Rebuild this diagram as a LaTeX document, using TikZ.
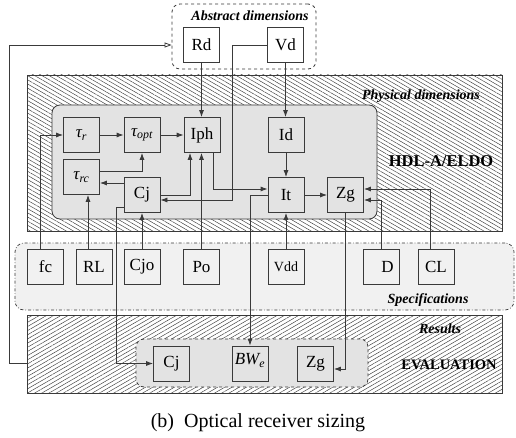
\documentclass[tikz,border=0pt]{standalone}
\usepackage{fontspec}
\setmainfont{Liberation Serif}
\usetikzlibrary{arrows.meta,patterns.meta,calc}

\definecolor{panelgray}{HTML}{E3E3E3}
\definecolor{specgray}{HTML}{F1F1F1}
\definecolor{inkgray}{HTML}{3A3A3A}

\begin{document}
\begin{tikzpicture}[x=1pt,y=-1pt,
  box/.style={draw=inkgray, line width=0.8pt, minimum width=36pt, minimum height=35pt,
    inner sep=0pt, font=\fontsize{17}{20}\selectfont},
  smallbox/.style={box, font=\fontsize{14}{16}\selectfont},
  wire/.style={draw=inkgray, line width=0.8pt},
  arr/.style={wire, -{Latex[length=7pt,width=5pt]}},
  openarr/.style={wire, -{Triangle[open,length=7pt,width=5pt]}},
  region/.style={draw=inkgray, line width=0.8pt, fill=white, inner sep=0pt},
  hatchdown/.style={region, postaction={pattern={Lines[angle=-30,distance=3.6pt,line width=0.45pt]}, pattern color=inkgray}},
  hatchup/.style={region, postaction={pattern={Lines[angle=30,distance=3.6pt,line width=0.45pt]}, pattern color=inkgray}},
  tag/.style={font=\fontsize{14}{16}\selectfont\bfseries\itshape},
  bigtag/.style={font=\fontsize{16.5}{18}\selectfont\bfseries},
]
\useasboundingbox (0,0) rectangle (516,438);

% abstract dimensions
\node[draw=inkgray, line width=0.8pt, dashed, rounded corners=8pt, minimum width=144pt,
      minimum height=65pt, inner sep=0pt] (abs) at (244,36.5) {};
\node[tag] at (250,16) {Abstract dimensions};

% physical dimensions layer
\node[hatchdown, minimum width=475pt, minimum height=156pt] (phys) at (264.5,153) {};
\node[tag] at (421,96) {Physical dimensions};
\node[bigtag] at (441,161) {HDL-A/ELDO};
\node[draw=inkgray, line width=0.8pt, fill=panelgray, rounded corners=8pt,
      minimum width=325pt, minimum height=114pt, inner sep=0pt] (hdl) at (214.5,162) {};

% specifications layer
\node[draw=inkgray, line width=0.7pt, dash dot, fill=specgray, rounded corners=9pt,
      minimum width=499pt, minimum height=67pt, inner sep=0pt] (spec) at (264.5,276.5) {};
\node[tag] at (428,300) {Specifications};

% evaluation layer
\node[hatchup, minimum width=475pt, minimum height=78pt] (evalbox) at (264.5,354) {};
\node[tag] at (440,329) {Results};
\node[font=\fontsize{14.5}{16}\selectfont\bfseries] at (449,365) {EVALUATION};
\node[draw=inkgray, line width=0.8pt, dashed, fill=panelgray, rounded corners=8pt,
      minimum width=232pt, minimum height=48pt, inner sep=0pt] (res) at (252,363) {};

% abstract parameters
\node[box, fill=white] (rd) at (201.5,45) {Rd};
\node[box, fill=white] (vd) at (285.5,45) {Vd};

% physical parameters
\node[box] (tr)   at (81.5,135) {\itshape τ\textsubscript{r}};
\node[box] (topt) at (142,135)  {\itshape τ\textsubscript{opt}};
\node[box] (iph)  at (202,135)  {Iph};
\node[box] (id)   at (286,135)  {Id};
\node[box] (trc)  at (81.5,177) {\itshape τ\textsubscript{rc}};
\node[box] (cj)   at (142,195)  {Cj};
\node[box] (it)   at (286,195)  {It};
\node[box] (zg)   at (345.5,195){Zg};

% specification parameters
\node[box] (fc)  at (45.5,267)  {fc\hspace{9pt}};
\node[box] (rl)  at (94,267)    {RL};
\node[box] (cjo) at (142,267)   {Cjo};
\node[box] (po)  at (201.5,267) {Po};
\node[smallbox] (vdd) at (286,267) {Vdd};
\node[box] (d)   at (381.5,267) {\hspace{12pt}D};
\node[box] (cl)  at (436,267)   {CL};

% results
\node[box] (cj2) at (171.5,363.5) {Cj};
\node[box] (bw)  at (250,363.5)   {\raisebox{9pt}{\itshape BW\textsubscript{e}}};
\node[box] (zg2) at (315.5,363.5) {Zg\hspace{4pt}};

% dependencies
\draw[arr] (rd) -- (rd |- iph.north);
\draw[arr] (vd) -- (vd |- id.north);
\draw[arr] (vd.west) -| ([yshift=-5pt]cj.east -| 232,0) -- ([yshift=-5pt]cj.east);
\draw[arr] ([xshift=-5.5pt]fc.north) |- (tr.west);
\draw[arr] (tr) -- (topt);
\draw[arr] (topt) -- (iph);
\draw[arr] ([yshift=6pt]trc.east) -| (topt.south);
\draw[arr] ([yshift=12pt]cj.west) -- ([yshift=12pt]cj.west -| trc.east);
\draw[arr] (cj.east) -| ([xshift=-12pt]iph.south);
\draw[arr] (po.north) -- (po.north |- iph.south);
\draw[arr] ([xshift=11pt]iph.south) |- ([yshift=6pt]it.west);
\draw[arr] (id) -- (it);
\draw[arr] (it) -- (zg);
\draw[arr] ([xshift=-6pt]rl.north) -- ([xshift=-6pt]rl.north |- trc.south);
\draw[arr] (cjo) -- (cj);
\draw[arr] (vdd) -- (it);
\draw[arr] ([xshift=-6pt]cl.north) |- ([yshift=6pt]zg.east);
\draw[arr] (d.north) |- ([yshift=-5pt]zg.east);
\draw[arr] ([yshift=-12pt]cj.west) -- ++(-7,0) |- (cj2.west);
\draw[arr] (it.west) -| (bw.north);
\draw[arr] (zg.south) |- ([yshift=-5.5pt]zg2.east);
\draw[openarr] (evalbox.west |- cj2) -- ++(-17,0) |- (abs.west |- rd);

% caption
\node[font=\fontsize{20}{24}\selectfont] at (258,423) {(b)\hspace{0.5em}Optical receiver sizing};
\end{tikzpicture}
\end{document}
